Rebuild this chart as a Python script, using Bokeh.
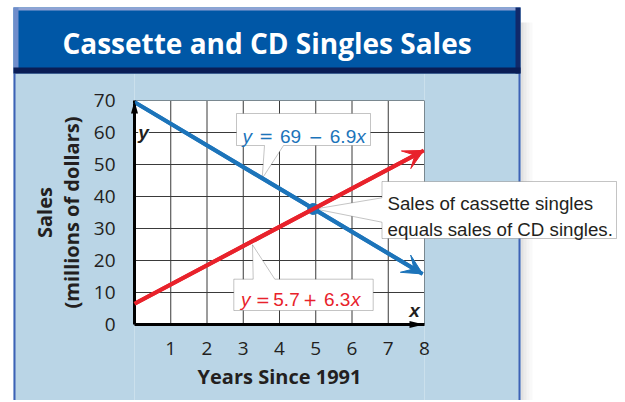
import math
from bokeh.plotting import figure
from bokeh.models import (Range1d, FixedTicker, BoxAnnotation, PolyAnnotation,
                          Label, Arrow, VeeHead)
from bokeh.embed import file_html
from bokeh.resources import INLINE

# ---------------- data ----------------
title_text = "Cassette and CD Singles Sales"
x_title = "Years Since 1991"
y_title_lines = ["Sales", "(millions of dollars)"]
x_ticks = [1, 2, 3, 4, 5, 6, 7, 8]
x_grid = [0, 1, 2, 3, 4, 5, 6, 7, 8]
y_ticks = [0, 10, 20, 30, 40, 50, 60, 70]

years_cassette = [0.0, 7.95]
sales_cassette = [69.5, 15.8]
years_cd = [0.0, 7.98]
sales_cd = [6.5, 54.4]
meet_x = [4.93]
meet_y = [36.1]

eq_cassette = ["y", "=", "69", "\u2212", "6.9", "x"]
eq_cd = ["y", "=", "5.7", "+", "6.3", "x"]
note_lines = ["Sales of cassette singles", "equals sales of CD singles."]

# ---------------- styles ----------------
BLUE = "#1c74ba"
RED = "#e8222b"
DARK = "#231f20"
PANEL = "#bad5e6"
BAND = "#0057a6"
GRID = "#3a3a3a"

W, H = 622, 400
ORG = 0                    # page offset of the canvas
PX0, PY0 = 134, 324        # page pixel of data origin
SX, SY = 36.25, 3.2        # pixels per data unit


def dx(page_x):
    return (page_x - PX0) / SX


def dy(page_y):
    return (PY0 - page_y) / SY


p = figure(width=W, height=H,
           x_range=Range1d(dx(ORG), dx(ORG + W)), y_range=Range1d(dy(ORG + H), dy(ORG)),
           output_backend="svg", toolbar_location=None,
           min_border=0, min_border_left=0, min_border_right=0,
           min_border_top=0, min_border_bottom=0,
           border_fill_color="white", background_fill_color="white",
           outline_line_color=None)
p.xgrid.visible = False
p.ygrid.visible = False

# axes fixed at the data origin
p.xaxis.fixed_location = 0
p.yaxis.fixed_location = 0
p.xaxis.bounds = (x_grid[0], x_grid[-1])
p.yaxis.bounds = (y_ticks[0], y_ticks[-1])
p.xaxis.ticker = FixedTicker(ticks=x_ticks)
p.yaxis.ticker = FixedTicker(ticks=y_ticks)
for ax in (p.xaxis, p.yaxis):
    ax.axis_line_color = "black"
    ax.axis_line_width = 3
    ax.major_tick_line_color = None
    ax.minor_tick_line_color = None
    ax.major_tick_in = 0
    ax.major_tick_out = 0
    ax.minor_tick_in = 0
    ax.minor_tick_out = 0
    ax.major_label_text_font = "Open Sans"
    ax.major_label_text_font_size = "19px"
    ax.major_label_text_color = DARK
    ax.axis_label_text_font = "Open Sans"
    ax.axis_label_text_font_size = "20px"
    ax.axis_label_text_font_style = "bold"
    ax.axis_label_text_color = DARK
p.xaxis.axis_label = x_title
p.xaxis.major_label_standoff = 17
p.yaxis.major_label_standoff = 19
p.xaxis.axis_label_standoff = 5


# ---------------- panel & title band ----------------
def box(l, r, t, b, color, alpha=1.0, level="image"):
    p.add_layout(BoxAnnotation(left=dx(l), right=dx(r), top=dy(t), bottom=dy(b),
                               fill_color=color, fill_alpha=alpha,
                               line_color=None, level=level))


# soft shadow right of the panel
for i, a in enumerate([0.3, 0.2, 0.12, 0.06]):
    box(520 + 3 * i, 523 + 3 * i, 22, 410, "#9a9a9a", a)
# light blue panel around the white plotting area
gx0, gx1 = PX0 + x_grid[0] * SX, PX0 + x_grid[-1] * SX
gy1, gy0 = PY0 - y_ticks[-1] * SY, PY0 - y_ticks[0] * SY
box(13, gx0, 73, 410, PANEL)
box(gx1, 520, 73, 410, PANEL)
box(gx0, gx1, 73, gy1, PANEL)
box(gx0, gx1, gy0, 410, PANEL)
box(13, 15, 73, 410, "#3d62b6")
box(518, 520, 73, 410, "#3d62b6")
# title band with bevel
box(13, 520, 7, 73, BAND)
box(13, 520, 7, 10, "#8fa2d4")
box(13, 18, 7, 73, "#6f8dcb")
box(515, 520, 7, 73, "#10296a")
box(13, 520, 67, 73, "#0a1d55")

p.add_layout(Label(x=dx(266.5), y=dy(42), text=title_text, text_align="center",
                   text_baseline="middle", text_color="white", text_font="Open Sans",
                   text_font_style="bold", text_font_size="28px"))

# y axis title (two rotated lines)
for t, cx in zip(y_title_lines, [43.8, 70.5]):
    p.add_layout(Label(x=dx(cx), y=dy(212), text=t, angle=math.pi / 2,
                       text_align="center", text_baseline="middle",
                       text_font="Open Sans", text_font_style="bold",
                       text_font_size="20px", text_color=DARK))

# grid lines (only inside the plotting area)
p.segment(x0=x_grid, y0=[y_ticks[0]] * len(x_grid), x1=x_grid, y1=[y_ticks[-1]] * len(x_grid),
          line_color=GRID, line_width=1, level="image")
p.segment(x0=[x_grid[0]] * len(y_ticks), y0=y_ticks, x1=[x_grid[-1]] * len(y_ticks), y1=y_ticks,
          line_color=GRID, line_width=1, level="image")


# ---------------- callouts ----------------
def poly(pts):
    p.add_layout(PolyAnnotation(xs=[dx(a) for a, b in pts], ys=[dy(b) for a, b in pts],
                                fill_color="white", fill_alpha=1, line_color="#3a3a3a",
                                line_width=1, level="underlay"))


mx = PX0 + meet_x[0] * SX
my = PY0 - meet_y[0] * SY
poly([(236, 113), (370, 113), (370, 145), (283, 145), (261.7, 178), (264, 145), (236, 145)])
poly([(233.3, 278.7), (252.7, 278.7), (252, 244.3), (274.3, 278.7), (372.7, 278.7),
      (372.7, 310), (233.3, 310)])
poly([(381.5, 181), (616, 181), (616, 238), (381.5, 238), (381.5, 221.7),
      (mx + 2, my), (381.5, 197.3)])

# ---------------- data lines ----------------
p.line(years_cassette, sales_cassette, line_color=BLUE, line_width=4)
p.line(years_cd, sales_cd, line_color=RED, line_width=4)
p.add_layout(Arrow(end=VeeHead(size=20, fill_color=BLUE, line_color=BLUE, line_width=1),
                   x_start=years_cassette[0], y_start=sales_cassette[0],
                   x_end=years_cassette[-1], y_end=sales_cassette[-1],
                   line_color=BLUE, line_width=4))
p.add_layout(Arrow(end=VeeHead(size=20, fill_color=RED, line_color=RED, line_width=1),
                   x_start=years_cd[0], y_start=sales_cd[0],
                   x_end=years_cd[-1], y_end=sales_cd[-1],
                   line_color=RED, line_width=4))
p.scatter(meet_x, meet_y, size=11, color=BLUE)

# axis arrowheads
p.add_layout(PolyAnnotation(xs=[dx(130.5), dx(134), dx(137.5)], ys=[dy(113), dy(100.5), dy(113)],
                            fill_color="black", fill_alpha=1, line_color=None, level="overlay"))
p.add_layout(PolyAnnotation(xs=[dx(409), dx(423.5), dx(409)], ys=[dy(320.5), dy(324), dy(327.5)],
                            fill_color="black", fill_alpha=1, line_color=None, level="overlay"))

# axis letters
p.add_layout(Label(x=dx(143), y=dy(132), text="y", text_align="center", text_baseline="middle",
                   text_font="Liberation Sans", text_font_style="bold italic",
                   text_font_size="19px", text_color=DARK, background_fill_color="white"))
p.add_layout(Label(x=dx(414), y=dy(310), text="x", text_align="center", text_baseline="middle",
                   text_font="Liberation Sans", text_font_style="bold italic",
                   text_font_size="19px", text_color=DARK))


# equation texts
def eq(pieces, centers, base, color):
    for t, cx in zip(pieces, centers):
        if t in ("x", "y"):
            font, style, size = "Liberation Sans", "italic", "19px"
        elif t in ("=", "+", "\u2212"):
            font, style, size = "DejaVu Sans", "normal", "17px"
        else:
            font, style, size = "Liberation Sans", "normal", "19px"
        p.add_layout(Label(x=dx(cx), y=dy(base), text=t, text_align="center",
                           text_baseline="alphabetic", text_font=font,
                           text_font_style=style, text_font_size=size, text_color=color))


eq(eq_cassette, [246.7, 265.5, 290, 315, 342.5, 360.5], 135.7, BLUE)
eq(eq_cd, [245.2, 262.3, 286, 309.7, 336.7, 355.2], 299.3, RED)

for t, base in zip(note_lines, [203.3, 229]):
    p.add_layout(Label(x=dx(387), y=dy(base), text=t, text_align="left",
                       text_baseline="alphabetic", text_font="Liberation Sans",
                       text_font_size="18.7px", text_color=DARK))

open("out.html", "w").write(file_html(p, INLINE))
